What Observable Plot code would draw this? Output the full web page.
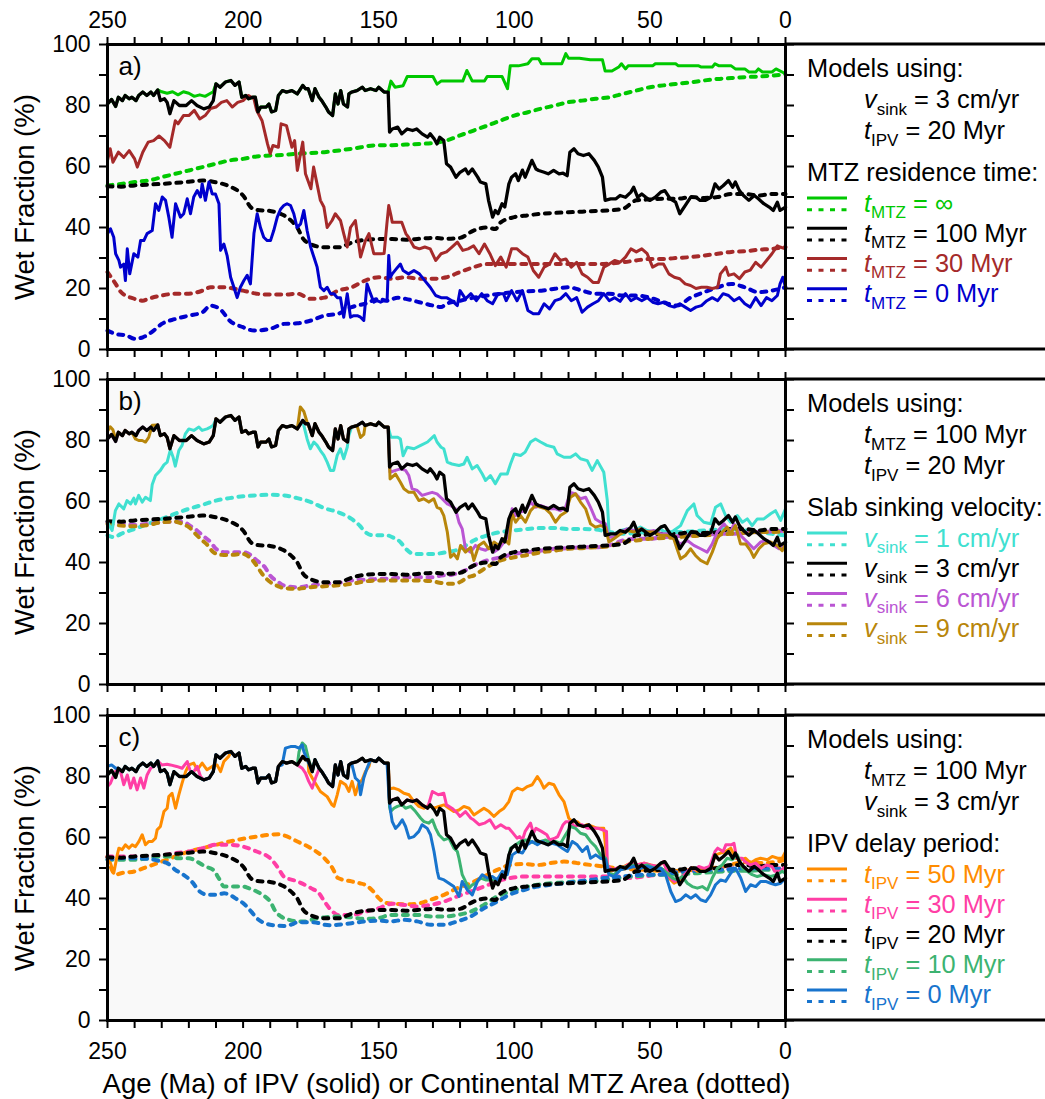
<!DOCTYPE html>
<html>
<head>
<meta charset="utf-8">
<script src="https://cdn.jsdelivr.net/npm/d3@7"></script>
<script src="https://cdn.jsdelivr.net/npm/@observablehq/plot@0.6"></script>
<style>
  body { margin: 0; background: #fff; }
  #chart svg { display: block; }
</style>
</head>
<body>
<div id="chart"></div>
<script>
// Wet fraction (%) versus age (Ma). Each model has a solid series (age of the
// IPV) and a dotted series (continental MTZ area). Pairs are [age, wet %].

// Reference model: t_MTZ = 100 Myr, v_sink = 3 cm/yr, t_IPV = 20 Myr (black, all panels)
const refSolid = [[250,80.5],[248.5,82],[247,79.7],[246,82.7],[244.5,81.6],[243.5,83.3],[242,82.2],[241,82.7],[239.5,81.6],[238.5,83.3],[237,84.4],[235.5,83.3],[234,84.4],[233,83.3],[231.5,85.1],[230.5,81.6],[229,82.2],[228,81],[227,77.3],[225.5,81.6],[223.5,80],[221,80],[219,81.6],[217,80],[214.5,78.9],[212.5,79.5],[211,81.6],[210,87.1],[208.5,86],[206.5,87.7],[204.5,88.2],[203,86.6],[201.5,87.7],[200.5,82.7],[199,83.3],[198,82.2],[196.5,82.7],[195.5,82.7],[194.5,77.9],[193.5,79.5],[191.5,79.5],[190.5,80.5],[189.5,77.9],[188,78.4],[187,83.3],[185.5,84.9],[184,84.4],[182,84.9],[180,83.8],[178,86.6],[177,85.5],[176,85.5],[174.5,81.6],[173.5,85.5],[172,82.7],[171,81.6],[169.5,79.5],[168.5,77.9],[167,76.7],[166,83.8],[165,80.5],[164,84.9],[163,80.5],[161.5,79.5],[161,83.8],[160,84.4],[158,84.9],[156,86],[155,84.9],[153,85.5],[151,84.9],[150,86],[148,84.4],[146.5,84.4],[146,71.3],[145,72.3],[143,72.9],[141.5,70.7],[139.5,72.3],[137.5,71.8],[136,72.3],[134,70.7],[132,69.6],[131,70.7],[129.5,69],[128.5,67.4],[127.5,69.6],[126,68.5],[125,60.9],[123.5,59.8],[121.5,56.5],[120,58.1],[118,59.2],[117,57.6],[115.5,59.2],[113.5,56.5],[112.5,54.9],[110.5,54.3],[109.5,48.9],[108,43.4],[107,45.6],[106,44.5],[104.5,47.8],[103.5,46.7],[102,54.3],[101,56.5],[99.5,57.6],[98.5,55.4],[97,58.8],[96,56.5],[94.5,59.8],[93.5,62],[92,59.2],[91,58.7],[89,58.1],[87.5,57.6],[85.5,58.7],[83.5,57.6],[82,57.8],[80.5,57],[79.5,64.7],[78,65.8],[76.5,64.2],[74.5,63.6],[72.5,64.2],[70.5,62],[69,59.8],[67.5,56.5],[66.5,48.9],[64.5,49.4],[62.5,49.4],[61,50.5],[59,49.9],[57,51.6],[56,53.2],[54.5,49.9],[53,51],[51.5,49.9],[50,48.9],[48,49.9],[46,51.6],[44.5,52.1],[42.5,49.4],[40.5,48.3],[39,44.5],[37,47.2],[35,49.9],[33,49.9],[31.5,48.9],[29.5,48.9],[27.5,49.9],[26,54.3],[24.5,52.6],[23,53.7],[21,55.4],[19.5,53.2],[18.5,54.9],[17,52.1],[15.5,50.5],[13.5,48.9],[11.5,50.5],[10,49.4],[8,47.8],[6,46.7],[4.5,45.6],[3,48.3],[2,45.6],[0,46.7]];
const refDotted = [[250,53.5],[245,53.4],[240,53.8],[230,54.3],[220,55],[215,55.4],[210,54.8],[205,53.5],[200,50.5],[197,46.5],[195,45.8],[190,45.4],[187,44.8],[185,44],[182,42],[180,40],[178,36.5],[175,34.5],[170,33.5],[165,33.5],[160,35],[155,36],[150,36.2],[145,36.2],[140,36],[135,36.3],[130,36.6],[125,36.3],[120,36.6],[115,39],[110,40],[107,39.5],[105,41.7],[100,43.4],[95,44],[90,44.5],[85,44.8],[80,45],[75,45.2],[70,45.4],[65,45.6],[60,46.1],[55,48.9],[50,49.2],[45,49.4],[40,49.4],[35,50],[30,49.7],[25,50],[20,51],[15,51],[10,50.5],[5,51],[0,51]];

// Panel a: MTZ residence time
const mtzInfSolid = [[250,80.5],[248.5,82],[247,79.7],[246,82.7],[244.5,81.6],[243.5,83.3],[242,82.2],[241,82.7],[239.5,81.6],[238.5,83.3],[237,84.4],[235.5,83.3],[234,84.4],[233,83.3],[231.5,85.1],[230,84.5],[228,84],[226,84.5],[224,83.5],[222,84.5],[220,84],[218,83],[216,83.5],[214,83],[212,84],[211,84.5],[210,87.1],[208.5,86],[206.5,87.7],[204.5,88.2],[203,86.6],[201.5,87.7],[200.5,82.7],[199,83.3],[198,82.2],[196.5,82.7],[195.5,82.7],[194.5,77.9],[193.5,79.5],[191.5,79.5],[190.5,80.5],[189.5,77.9],[188,78.4],[187,83.3],[185.5,84.9],[184,84.4],[182,84.9],[180,83.8],[178,86.6],[177,85.5],[176,85.5],[174.5,81.6],[173.5,85.5],[172,82.7],[171,81.6],[169.5,79.5],[168.5,77.9],[167,76.7],[166,83.8],[165,80.5],[164,84.9],[163,80.5],[161.5,79.5],[161,83.8],[160,84.4],[158,84.9],[156,86],[155,84.9],[153,85.5],[151,84.9],[150,86],[148,84.4],[146.5,84.4],[145.5,88],[144,86],[141,86.5],[139.5,89.5],[135,89.5],[130,89.5],[128.5,87],[127,88],[119,88],[117.5,91.5],[115.5,88],[111,88],[110,89.5],[104.5,89.5],[102.5,85.5],[101.5,93],[98.5,93],[95,93.7],[93.5,95.3],[91,95.3],[90,93.7],[82.5,93.7],[81,97],[80,95.5],[76,95.5],[72,95],[67.5,95],[66.5,91.3],[64,91.3],[61.5,92.6],[60.5,93.7],[59,92],[58,93],[49,93],[48,93.7],[40.5,93.7],[39.5,93],[32,93],[31,92.6],[27,92.6],[26,93.7],[24.5,93],[20,93],[18.5,92],[15,92],[13.5,91],[11,91],[10,92],[8.5,91],[5,91],[3.5,92],[0,90.4]];
const mtzInfDotted = [[250,53.8],[245,54.3],[240,54.9],[235,55.4],[230,56.5],[225,57.6],[220,58.7],[215,59.8],[210,60.9],[205,62],[200,62.5],[195,63.3],[190,63.6],[185,63.8],[180,64.2],[170,64.7],[160,65.8],[150,67],[145,67],[140,67.2],[135,67.4],[130,67.7],[125,68.5],[120,70.2],[115,71.8],[110,73.4],[105,75.1],[100,76.7],[95,77.8],[90,79],[85,80],[80,81.1],[75,81.6],[70,82.2],[65,82.7],[60,83.8],[55,84.9],[50,86],[45,86.6],[40,87.1],[35,87.6],[30,88.2],[25,88.7],[20,89],[15,89.3],[10,89.5],[5,89.8],[0,90.2]];
const mtz30Solid = [[250,62],[249,65.8],[248,61.4],[246,64.7],[244,63],[242,65.2],[240,62.5],[239,59.8],[237,64.7],[235,68],[233,68.5],[231,70],[229,68.5],[227,66.3],[225,75],[224,74],[222,76.7],[220,76.7],[218,78.4],[216,75.6],[214,76.7],[212,79],[210,79.5],[208,81],[206,81.6],[204,79.5],[202,81],[200,81.6],[198,83.3],[196,82.2],[195,78.4],[193,75],[191,67.4],[190,64.2],[189,66.9],[187,66.3],[186,74],[184,73.4],[182,66.3],[181,68.5],[180,58.7],[178,68],[177,57.6],[175,52.7],[174,59.8],[171.5,48.9],[170.2,46.7],[169,40],[167.2,42.3],[166,44.5],[164.1,42.3],[162.9,38],[161.6,33.6],[160.4,40],[158.6,42.3],[156.7,30.3],[154.9,35.7],[153.6,38],[151.8,31.4],[149.3,31.4],[148,31.5],[147,41],[146.3,47.2],[145.5,44],[145,41.7],[141.5,41.7],[140,38],[139,36.8],[137,33.6],[135,33],[133,33.6],[131,33],[129,29.2],[127,31.4],[125,32],[123,33.6],[121,35.2],[119,32.5],[117,33],[115,34],[113,31.4],[111,34.6],[109,31.4],[107,27.5],[105,30.3],[103,27],[101,33],[99,33],[97,31.4],[95,30.3],[93,25.9],[91,23.7],[89,27],[87,28],[85,31.4],[83,29.2],[81,29.7],[79,27],[77,28.6],[75,24.8],[73,23.7],[71,22],[69,22],[67,27],[65,28],[63,29.2],[61,28.6],[59,30.3],[57,33],[55,32],[53,33],[51,31.4],[49,27],[47,28],[45,28],[43,24.8],[41,23.7],[39,23.2],[37,21.5],[35,21],[33,20],[31,20.4],[29,20.4],[27,20],[25,20.4],[24,24.8],[22,27],[21,24.3],[19,24.8],[17,23.2],[15,25.4],[13,26],[11,28.6],[9,27],[7,29.2],[5,31.4],[3,34],[2,33.6],[0,33]];
const mtz30Dotted = [[250,25.4],[247,21.5],[245,18.8],[240,16.6],[237,16],[235,16.6],[230,17.7],[225,18.3],[220,18.3],[215,19.3],[212,20.4],[207,20.4],[200,19.3],[195,18.3],[190,18],[185,18],[180,18.3],[175,16.6],[170,17],[165,19.3],[160,20.4],[155,22.6],[150,23.7],[145,23.2],[140,23.7],[135,23.2],[130,23.2],[125,23.7],[120,25.4],[115,27],[110,28],[105,28],[100,28],[95,28],[90,28],[85,28],[80,28],[75,28],[70,28],[65,28.2],[60,28.6],[55,29.2],[50,29.7],[45,29.7],[40,30],[35,30.3],[30,30.8],[25,31.4],[20,32],[15,32.2],[10,32.7],[5,33],[0,33.6]];
const mtz0Solid = [[250,38],[248.9,39.6],[247.7,36.8],[247,31.4],[245.8,29.2],[245.2,27],[244,28],[243.4,22.6],[242.7,33],[241.8,24.8],[240.3,31.4],[238.8,30.3],[237.8,35.7],[236.6,35.7],[235.4,38],[233.5,39],[232.3,47.8],[231.1,45.6],[229.8,50],[228.6,48.9],[227.4,43.4],[226.2,36.8],[224.9,47.8],[223.1,43.4],[221.9,44.5],[220.6,49.4],[219.4,44.5],[218.2,50],[216.9,52.1],[215.7,50],[215.1,54.3],[213.9,48.9],[212.6,54.9],[211.4,51],[210.2,51],[208.9,47.8],[208.3,32.5],[207.1,34.6],[205.9,30.8],[204.6,23.7],[203.4,20.4],[202.2,17],[201,20.4],[199.7,22.6],[198.5,24.3],[197.3,21.5],[196,38],[194.8,44.5],[193.6,40],[192.4,36.8],[191.1,35.7],[189.9,35.7],[188.7,39],[187.4,43.4],[186.2,46],[185,47.2],[183.8,47.8],[182.5,47.2],[181.3,44.5],[180.1,40],[178.8,41.2],[177.6,45.6],[176.4,39],[175.1,33.6],[173.9,30.3],[172.7,27],[171.5,20.4],[170.2,19.3],[169,20.4],[167.8,18.3],[166.5,18.3],[165.3,17],[164.1,17],[162.9,10.6],[161.6,18.3],[160.4,10.6],[159.2,11.1],[157.9,11.1],[156.7,10.6],[155.5,9.5],[154.3,21.5],[153,18.3],[151.8,15.5],[150.6,16],[149.3,15.5],[148.1,16],[146.9,16],[146.3,30.8],[145.7,23.7],[145,24.8],[143,27],[142,28],[141,25.9],[139,24.8],[137,25.9],[135,24.8],[133,22.6],[131,20.4],[129,17.7],[127,17],[125,17],[123,16],[121,14.4],[120,19.3],[118,16.6],[116,18.3],[114,16],[112,18.3],[110,16],[108,15],[106,18.3],[104,18.3],[103,16],[101,19.3],[99,16],[97,19.3],[95,12.8],[93,11.7],[91,11.7],[89,15],[87,13.3],[85,16],[83,16.6],[81,18.3],[79,16],[77,17],[75,12.2],[73,13.9],[71,15],[69,16],[67,18.3],[65,16],[63,17],[61,15.8],[59,18.3],[57,16],[55,17],[53,16],[51,17],[49,15.5],[47,15],[45,15.5],[43,14.4],[41,13.9],[39,15],[37,13.9],[35,12.8],[33,13.9],[31,14.4],[29,16],[27,17],[25,16],[23,18.3],[21,17.7],[19,16],[17,17],[15,15],[13,13.9],[11,17],[9,14.4],[7,17],[5,16],[3,17.7],[2,21.5],[1,23.7],[0,20.4]];
const mtz0Dotted = [[250,6.2],[247,5.1],[243,4.6],[240,3.5],[237,4],[233,6.2],[230,8.4],[225,10],[220,11.1],[215,12.2],[212,14.4],[208,12.8],[205,9.5],[200,7.3],[196,6.2],[190,6.8],[185,8.4],[180,8.6],[175,9.5],[170,11.1],[165,11.7],[160,13.9],[155,15],[150,16.6],[147,16],[143,17],[140,16.6],[135,15.5],[130,14.4],[127,13.9],[125,15],[120,16],[115,17],[110,17.7],[105,18.3],[100,18.8],[95,19.1],[90,19.3],[85,19.9],[80,20.4],[75,19.3],[70,18.3],[65,18.3],[60,17.7],[55,17.7],[50,17],[45,15.5],[40,14.4],[35,17],[30,18.8],[25,20.4],[20,21.5],[15,20.4],[10,18.8],[5,19.3],[0,20.4]];

// Panel b: slab sinking velocity
const sink1Solid = [[250,53.2],[248.3,50.5],[247.1,57],[245.8,59.2],[244,57.6],[242.8,60.3],[241.5,59.2],[240.3,61.1],[239.7,59.2],[238.5,62],[237.2,59.8],[236,61.4],[234.2,60.3],[233.5,65.6],[232.3,68.5],[230.5,70.2],[229.2,72],[228,72.9],[226.8,77],[225.8,74.5],[225,71.6],[223.7,76.7],[222.5,78.4],[221.3,82.2],[220,83.8],[218.2,83.3],[216.3,84.4],[215.1,83.3],[213.3,83.8],[212,84.4],[211,85],[210,87.1],[208.5,86],[206.5,87.7],[204.5,88.2],[203,86.6],[201.5,87.7],[200.5,82.7],[199,83.3],[198,82.2],[196.5,82.7],[195.5,82.7],[194.5,77.9],[193.5,79.5],[191.5,79.5],[190.5,80.5],[189.5,77.9],[188,78.4],[187,83.3],[185.5,84.9],[184,84.4],[182,84.9],[180,83.8],[178,86.6],[177.6,84.9],[176.4,80.5],[175.2,77.3],[173.9,79.5],[172.7,78.4],[171.5,76.7],[170.2,75.1],[169,72.9],[167.8,70.2],[166.6,70.2],[165.3,75.1],[164.1,77.3],[162.9,74],[161.6,77.8],[161,81.6],[160,84.4],[158,84.9],[156,86],[155,84.9],[153,85.5],[151,84.9],[150,86],[148,84.4],[146.5,84.4],[145.5,81.1],[143,81.1],[142,80.5],[141,75],[139.5,77.8],[137,77.3],[134.5,78.4],[132,79.5],[129.5,81.6],[128.5,79.5],[127,77.8],[126,77.3],[124.7,72.9],[123,72.3],[120.4,71.8],[118.6,72.3],[117.4,74.5],[115.5,70.7],[113.7,71.8],[111.8,69],[110.6,66.9],[108.8,68.5],[107,65.8],[105,69],[102.6,69],[101.4,72.3],[100,75.6],[97.7,75.1],[96,76.2],[94,79.5],[92.2,80.5],[90.3,79.5],[88,78.4],[85.4,77.8],[84.2,75.6],[81.7,74.5],[79.3,74.5],[77.4,75.6],[75.6,74],[73.1,73.4],[71.3,70.2],[69.4,73.4],[67,69.6],[65.7,60.3],[65.1,50],[63.3,49.4],[60.8,50.5],[58.4,51],[55.9,50.5],[53.5,51.6],[51,50.5],[48.5,50],[46.1,51],[43.6,49.4],[41.2,50.5],[38.7,52.1],[36.2,57],[33.8,59.2],[32.6,55.4],[30.1,53.2],[27.6,52.7],[25.8,58.1],[23.9,59.2],[22.1,55.4],[20.3,53.2],[17.8,55.4],[15.9,53.2],[14.1,54.3],[12.3,52.1],[10.4,54.3],[8,54.3],[5.5,56],[3.7,57],[1.8,53.8],[0,57.6]];
const sink1Dotted = [[250,48.9],[247.5,48.3],[245,49.4],[240,51],[235,52.7],[230,54.3],[225,56],[220,57.6],[215,58.9],[210,60.3],[205,61.1],[200,61.7],[195,62],[190,62.2],[185,62],[180,61.1],[175,59.8],[170,57.8],[165,56.5],[160,54.3],[157,52.1],[155,50],[152,48.9],[150,48.9],[147,48.9],[145,48.3],[142,46.7],[140,44.5],[137,42.8],[135,42.8],[130,42.8],[125,43.4],[120,44.5],[117,46.1],[115,47.2],[110,48.9],[105,50],[100,50.5],[95,51],[90,51.3],[85,51.3],[80,51],[75,51],[70,50.8],[65,50],[60,49.4],[55,49.7],[50,50],[45,50],[40,50],[35,50.2],[30,50.5],[25,50.8],[20,51],[15,50.5],[10,50],[5,49.4],[0,48.9]];
const sink6Solid = [[250,80.5],[248.5,82],[247,79.7],[246,82.7],[244.5,81.6],[243.5,83.3],[242,82.2],[241,82.7],[239.5,81.6],[238.5,83.3],[237,84.4],[235.5,83.3],[234,84.4],[233,83.3],[231.5,85.1],[230.5,81.6],[229,82.2],[228,81],[227,77.3],[225.5,81.6],[223.5,80],[221,80],[219,81.6],[217,80],[214.5,78.9],[212.5,79.5],[211,81.6],[210,87.1],[208.5,86],[206.5,87.7],[204.5,88.2],[203,86.6],[201.5,87.7],[200.5,82.7],[199,83.3],[198,82.2],[196.5,82.7],[195.5,82.7],[194.5,77.9],[193.5,79.5],[191.5,79.5],[190.5,80.5],[189.5,77.9],[188,78.4],[187,83.3],[185.5,84.9],[184,84.4],[182,84.9],[180,83.8],[178,86.6],[177,85.5],[176,85.5],[174.5,81.6],[173.5,85.5],[172,82.7],[171,81.6],[169.5,79.5],[168.5,77.9],[167,76.7],[166,83.8],[165,80.5],[164,84.9],[163,80.5],[161.5,79.5],[161,83.8],[160,84.4],[158,84.9],[156,86],[155,84.9],[153,85.5],[151,84.9],[150,86],[148,84.4],[146.5,84.4],[145.8,69.6],[143.8,70.2],[142,70.7],[140.1,70.2],[138.9,68.5],[137.7,64.2],[135.8,63.6],[134,62],[132.2,62.5],[130.3,63],[128.5,62.5],[126.6,60.9],[124.7,59.2],[123.5,58.7],[121.7,57.6],[120.4,53.2],[119.2,51],[118,44.5],[116.1,43.4],[114.3,45.6],[112.5,44.5],[110.6,44],[108.8,45],[107.5,43.4],[105.7,44.5],[103.8,46.7],[102,48.9],[100.8,57.6],[99.5,55.4],[97.7,56.5],[95.9,57],[94,59.8],[92.2,58.1],[90.3,58.7],[88.5,58.1],[86.6,57.6],[84.8,57.6],[83,57],[81.1,58.1],[79.3,63],[77.4,62.5],[75.6,60.9],[73.7,61.4],[71.9,58.1],[70.1,54.3],[68.2,53.2],[66.4,52.7],[65.1,48.3],[63.3,48.3],[60.8,50],[58.4,51],[55.9,50.5],[53.5,51],[51,50],[48.5,50.5],[46.1,49.4],[43.6,49.4],[41.2,47.8],[38.7,46.1],[36.2,47.2],[33.8,45.6],[31.3,44.5],[28.9,43.4],[27,46.1],[25.2,50],[22.7,52.7],[20.3,50],[19,52.7],[16.6,48.9],[14.1,46.7],[11.7,44.5],[9.2,46.7],[6.7,47.2],[4.3,45.6],[2.4,44.5],[0,46.1]];
const sink6Dotted = [[250,53.2],[245,53],[240,52.3],[235,52.7],[230,53.2],[225,53.4],[222,53.4],[220,52.3],[217,50.5],[215,48.9],[212,46.7],[210,44.5],[207,43.4],[205,43.4],[200,43.4],[197,42.3],[195,40.7],[192,38.5],[190,35.7],[187,33.6],[185,32.5],[180,31.9],[175,32.5],[170,33],[165,33.3],[160,34.1],[155,34.4],[150,34.6],[145,34.8],[140,35.2],[135,35.2],[130,35.2],[127,35.7],[123,36],[120,36.8],[117,37.9],[115,39],[112,40.1],[110,40.7],[105,41.7],[100,42.8],[95,43.4],[90,43.9],[85,44.5],[80,44.7],[75,45],[70,45],[65,45.6],[60,47.2],[55,47.8],[50,47.8],[45,48.3],[40,48.6],[35,48.9],[30,49.1],[25,49.4],[20,49.4],[15,49.7],[10,50],[5,50.2],[0,50.5]];
const sink9Solid = [[250,83],[249,84.5],[248,83.5],[247,80.5],[246,82.7],[244.5,81.6],[243.5,83.3],[242,82.2],[241,82.7],[239.7,80.5],[238.5,80],[237.2,80],[236,79.5],[234.8,81],[233.5,85],[231.5,85.1],[230.5,81.6],[229,82.2],[228,81],[227,77.3],[225.5,81.6],[223.5,80],[221,80],[219,81.6],[217,80],[214.5,78.9],[212.5,79.5],[211,81.6],[210,87.1],[208.5,86],[206.5,87.7],[204.5,88.2],[203,86.6],[201.5,87.7],[200.5,82.7],[199,83.3],[198,82.2],[196.5,82.7],[195.5,82.7],[194.5,77.9],[193.5,79.5],[191.5,79.5],[190.5,80.5],[189.5,77.9],[188,78.4],[187,83.3],[185.5,84.9],[184,84.4],[182,84.9],[180,83.8],[178.9,91],[177.6,89.5],[176.4,86],[174.5,81.6],[173.5,85.5],[172,82.7],[171,81.6],[169.5,79.5],[168.5,77.9],[167,76.7],[166,83.8],[165,80.5],[164,84.9],[163,80.5],[161.5,79.5],[161,83.8],[160,84.4],[158,84.9],[156.7,81],[155.5,82],[155,84.9],[153,85.5],[151,84.9],[150,86],[148,84.4],[146.5,84.4],[145.8,67.4],[143.8,69],[142,66.3],[140.7,64.2],[138.9,63],[137,63],[135.2,60.3],[133.4,60.9],[131.5,59.8],[129.7,60.9],[128.5,58.1],[127.2,57.6],[126,55.4],[124.7,50],[123.5,41.7],[122.3,42.8],[121,41.2],[119.8,45.6],[118,43.4],[116.1,45],[114.9,40.7],[113.1,45.6],[111.2,46.7],[109.4,44.5],[107.5,46.7],[105.7,45.6],[103.8,47.8],[102,46.1],[100.8,56],[99.5,53.2],[97.7,55.4],[95.9,53.2],[94,57],[92.2,58.7],[90.3,58.1],[88.5,57.6],[86.6,56],[84.8,53.2],[83,55.4],[81.1,56.5],[79.3,61.4],[77.4,62.5],[75.6,59.8],[73.7,57.6],[71.9,52.7],[70.1,51.6],[68.2,52.1],[66.4,51.6],[65.1,46.7],[63.3,47.8],[60.8,49.4],[58.4,50.5],[55.9,50],[53.5,51],[51,50],[48.5,50],[46.1,48.9],[43.6,48.9],[41.2,47.8],[40,44.5],[38.7,41.2],[36.9,42.3],[35,44.5],[33.2,42.3],[31.3,40.7],[28.9,39.6],[27,43.4],[25.2,47.8],[23.3,50],[21.5,51.6],[20.3,49.4],[18.4,52.1],[16.6,46.1],[14.7,46.1],[12.9,43.9],[11.7,41.7],[9.8,44.5],[8,46.1],[5.5,46.7],[3.1,45.6],[1.2,43.9],[0,46.1]];
const sink9Dotted = [[250,52.7],[245,52.1],[240,51.9],[235,52.3],[230,53.2],[225,53.4],[222,52.5],[220,51.6],[217,48.9],[215,47.2],[213,45.6],[211,43.4],[208,42.5],[205,42.5],[200,42.8],[197,41.2],[195,39],[193,36.3],[190,33.6],[187,32.2],[185,31.6],[180,31.4],[175,31.9],[170,32.2],[165,32.5],[160,33],[155,33.8],[150,34.1],[145,34.1],[140,34.1],[135,34.1],[130,33.8],[127,33.3],[123,33],[120,33.6],[117,35.2],[115,35.7],[112,37.4],[110,38.5],[105,40.7],[100,41.7],[95,42.5],[90,43.4],[85,43.9],[80,44.5],[75,44.7],[70,45],[65,45.3],[60,46.7],[55,47.2],[50,47.8],[45,48],[40,48.3],[35,48.6],[30,48.9],[25,49.1],[20,49.4],[15,49.7],[10,50],[5,50],[0,50.2]];

// Panel c: IPV delay period
const ipv50Solid = [[250,52.7],[248.9,51.6],[247.7,48.3],[246.4,54.3],[245.8,56.5],[244.6,56],[243.4,57.6],[242.1,56.5],[240.9,57.6],[239.7,57],[238.4,58.7],[237.2,60.9],[236,57.6],[234.8,58.7],[233.5,58.7],[232.3,59.8],[231.7,62.5],[230.5,63.6],[229.2,68.5],[228,69.6],[227.4,73.4],[226.2,74.5],[224.9,69.6],[223.7,74],[222.5,77.8],[221.2,81.6],[220,83.8],[218.2,84.4],[216.9,82.2],[215.1,84.4],[213.3,82.2],[211.4,83.3],[209.6,83.8],[208.3,81.6],[207.1,84.9],[205.3,86.6],[204.5,88.2],[203,86.6],[201.5,87.7],[200.5,82.7],[199,83.3],[198,82.2],[196.5,82.7],[195.5,82.7],[194.5,77.9],[193.5,79.5],[191.5,79.5],[190.5,80.5],[189.5,77.9],[188,78.4],[187,83.3],[185.5,84.9],[184,84.4],[182,84.9],[180,83.8],[178,86.6],[177,85.5],[176,85.5],[175.8,81.6],[174.5,79.5],[171.5,75.1],[169,73.4],[167.2,70.7],[166.5,70.2],[165.3,74],[164.1,78.4],[162.2,77.3],[161,75.1],[159.8,78.4],[158.6,74],[157.3,77.8],[156.1,78.9],[154.9,81.6],[153.6,83.3],[153,85.5],[151,84.9],[150,86],[148,84.4],[146.5,84.4],[146,76],[144.4,76.2],[142.5,75.6],[140.7,74.5],[138.8,74],[137,71.8],[135.2,70.2],[133.3,69.6],[131.5,70.7],[129.6,69.6],[127.8,70.2],[125.9,70.7],[124.1,69.6],[122.3,68.5],[120.4,69],[118.6,70.2],[116.7,69.6],[114.9,67.4],[113,68.5],[111.2,69.6],[109.3,68.5],[107.5,66.9],[105.6,68.5],[103.8,69.6],[102,71.8],[100.7,75],[98.9,76.2],[97,75.6],[95.2,76.7],[93.4,77.3],[91.5,80],[90.3,78.4],[89.1,76.2],[87.2,77.8],[85.4,77.3],[83.5,74],[81.7,71.8],[79.9,66.3],[78.6,65.2],[76.8,65.2],[74.9,63.6],[73.1,64.2],[71.2,63.6],[69.4,63],[67,63],[65.7,51],[64.5,48.9],[62,50],[59.6,50.5],[57.1,51.6],[54.7,51],[52.2,51.6],[49.7,51],[47.3,50.5],[44.8,52.1],[43,46.7],[41.1,45],[38.7,46.1],[36.8,47.8],[34.4,50],[32.5,48.9],[30.1,49.4],[27.6,50],[25.8,54.3],[23.9,54.9],[22.1,55.4],[20.2,56.5],[18.4,53.2],[16.5,52.7],[14.7,53.2],[12.9,51.6],[11,52.7],[9.2,53.2],[6.7,52.7],[4.9,53.8],[2.9,53.2],[1.2,53.2],[0,55.4]];
const ipv50Dotted = [[250,53.8],[247,47.8],[245,48.3],[240,48.9],[235,50.5],[230,52.1],[225,53.8],[220,55.4],[215,56.5],[210,57.6],[205,58.7],[200,59.6],[195,60.3],[190,60.9],[187,61.1],[185,60.7],[180,58.7],[175,56.5],[170,53.2],[167,49.9],[165,46.7],[160,45.6],[157,45],[155,44.5],[152,42.3],[150,40.1],[147,38.5],[145,38.3],[140.7,38.1],[135.8,38.3],[130.9,39.6],[125.9,41.2],[121,43.4],[116.1,45],[111.2,47.2],[106.3,49.4],[101.4,51],[96.4,51.3],[91.5,51],[86.6,51.6],[81.7,52.1],[76.8,51.6],[71.9,51],[67,50.5],[62,49.9],[57.1,49.6],[52.2,49.4],[47.3,49.1],[42.4,48.9],[37.4,49.2],[32.5,49.4],[27.6,49.9],[22.7,50.5],[17.8,51.6],[12.9,51.9],[8,51.6],[3.1,52.1],[0,52.7]];
const ipv30Solid = [[250,76.7],[248.9,77.8],[247.7,80.5],[246.4,82.7],[245.2,81.6],[244,77.3],[242.7,80.5],[241.5,76.2],[240.3,79.5],[239.1,75.6],[237.8,79.5],[236.6,76.2],[235.4,80.5],[234.1,82.7],[232.3,83.8],[231.5,85.1],[230,83.8],[228,84],[226.8,83.8],[224.5,83.3],[222.5,82.7],[220.6,84.9],[219.4,81.6],[218.2,81.6],[216.9,83.3],[215.7,80],[214.5,78.9],[212.5,79.5],[211,81.6],[210,87.1],[208.5,86],[206.5,87.7],[204.5,88.2],[203,86.6],[201.5,87.7],[200.5,82.7],[199,83.3],[198,82.2],[196.5,82.7],[195.5,82.7],[194.5,77.9],[193.5,79.5],[191.5,79.5],[190.5,80.5],[189.5,77.9],[188,78.4],[187,83.3],[185.5,84.9],[184,84.4],[182,84.9],[180,83.8],[178.2,82.7],[177,81.1],[175.8,78.4],[174.5,76.2],[173.3,79.5],[172.1,82.2],[171,81.6],[169.5,79.5],[168.5,77.9],[167,76.7],[166,83.8],[165,80.5],[164,84.9],[163,80.5],[161.5,79.5],[161,83.8],[160,84.4],[158,84.9],[156,86],[155,84.9],[153,85.5],[151,84.9],[150,86],[148,84.4],[146.5,84.4],[146,71.3],[145,72.3],[143,72.9],[141.5,70.7],[139.5,72.3],[137.5,71.8],[136,72.3],[134,70.7],[132,69.6],[130.2,75.1],[128,74],[126,74.5],[125,70.7],[123,69.6],[121,68],[120,66.9],[118,68.5],[116,66.3],[115,65.8],[113,64.2],[111,64.7],[109,65.8],[107,63],[105,64.2],[103,63],[102,63],[101,62],[99,59.8],[98,60.3],[97,59.2],[96,62],[94,64.7],[93,61.4],[92,63],[90,62],[88,60.9],[87,59.2],[85,59.8],[84,60.3],[82,64.2],[81,65.2],[79,65.2],[78,63.6],[76,64.2],[75,64.2],[73,63],[71,63],[69,63],[66,62],[65.7,51],[64,49.4],[62,50],[60,50],[57,51.6],[55,51],[52,51.6],[50,51],[47,50.5],[45,52.1],[43,47.2],[41,45.6],[39,46.6],[37,48],[35,49.9],[33,49.5],[32,50.5],[30,49.9],[28,50.5],[26,55.4],[25,56.5],[23,55.4],[22,57.6],[20,57.6],[19,58.1],[18,53.2],[16,53.2],[15,52.1],[13,51],[11,51.6],[9,49.9],[7,51],[5,50.5],[4,48.9],[2,48.9],[0,50.5]];
const ipv30Dotted = [[250,53.8],[245,53.8],[240,53.8],[235,53.8],[230,54.1],[225,54.9],[220,55.4],[215,56.5],[210,57.6],[205,57.6],[200,57],[195,55.4],[190,53.2],[187,49.9],[185,47.2],[180,45.6],[175,43.4],[172,41.7],[170,39],[167,35.7],[165,34.6],[160,34.6],[155,35.7],[150,36.8],[147,37.9],[145,38.3],[140.7,37.9],[135.8,37.4],[130.9,37.9],[125.9,39],[121,40.7],[116.1,42.3],[111.2,43.9],[106.3,45.6],[101.4,46.7],[96.4,47.2],[91.5,47.2],[86.6,47.2],[81.7,47.2],[76.8,47.2],[71.9,47.2],[67,47.2],[62,47.2],[57.1,46.7],[52.2,47.2],[47.3,47.8],[42.4,48.3],[37.4,48.9],[32.5,49.1],[27.6,49.4],[22.7,49.7],[17.8,49.9],[12.9,49.9],[8,49.9],[3.1,49.9],[0,49.9]];
const ipv10Solid = [[250,80.5],[248.5,82],[247,79.7],[246,82.7],[244.5,81.6],[243.5,83.3],[242,82.2],[241,82.7],[239.5,81.6],[238.5,83.3],[237,84.4],[235.5,83.3],[234,84.4],[233,83.3],[231.5,85.1],[230.5,81.6],[229,82.2],[228,81],[227,77.3],[225.5,81.6],[223.5,80],[221,80],[219,81.6],[217,80],[214.5,78.9],[212.5,79.5],[211,81.6],[210,87.1],[208.5,86],[206.5,87.7],[204.5,88.2],[203,86.6],[201.5,87.7],[200.5,82.7],[199,83.3],[198,82.2],[196.5,82.7],[195.5,82.7],[194.5,77.9],[193.5,79.5],[191.5,79.5],[190.5,80.5],[189.5,77.9],[188,78.4],[187,83.3],[185.5,84.9],[184,84.4],[182,84.9],[180,83.8],[179.4,88],[178.2,91],[177,90],[175.8,85.5],[174.5,81.6],[173.5,85.5],[172,82.7],[171,81.6],[169.5,79.5],[168.5,77.9],[167,76.7],[166,83.8],[165,80.5],[164,84.9],[163,80.5],[161.5,79.5],[161,83.8],[160,84.4],[158,84.9],[156,86],[155,84.9],[153,85.5],[151,84.9],[150,86],[148,84.4],[146.5,84.4],[146,70],[145.6,68.5],[144.4,69.6],[143.1,70.2],[141.3,70.7],[140.1,69.6],[138.2,70.2],[136.4,68.5],[134.5,66.3],[133.3,65.2],[131.5,64.7],[130.2,65.8],[129,63],[127.8,60.9],[125.9,59.2],[124.1,59.8],[122.3,56.5],[121,55.4],[120.4,53.2],[119.2,47.8],[118,45.6],[116.7,43.4],[115.5,44.5],[114.3,45],[112.4,46.7],[110.6,46.1],[108.7,46.1],[106.9,46.1],[105,47.2],[103.2,47.8],[101.4,56.5],[99.5,57.6],[97.7,58.7],[95.8,59.2],[94,58.7],[92.1,58.1],[90.3,58.7],[88.4,59.2],[86.6,58.1],[84.8,58.7],[82.9,58.1],[81.1,60.9],[79.2,63.6],[77.4,63],[75.6,61.4],[73.7,60.9],[71.9,58.7],[70,57],[68.2,54.3],[66.3,53.2],[65.1,48.3],[63.2,47.8],[60.8,50],[58.3,50.5],[55.9,51],[53.4,50.5],[51,51],[48.5,50],[46,50],[43.6,48.3],[41.7,46.7],[39.9,46.1],[38,47.2],[36.2,45],[34.4,43.9],[32.5,43.4],[30.7,43.9],[28.8,42.8],[27,46.7],[25.1,49.9],[23.3,51],[21.5,53.2],[19.6,52.7],[17.8,54.3],[15.9,49.9],[14.1,48.9],[12.3,47.8],[10.4,47.2],[8,47.8],[5.5,47.2],[3.1,47.8],[1.2,48.9],[0,48.3]];
const ipv10Dotted = [[250,52.7],[245,52.7],[240,52.7],[235,53.2],[230,53.8],[227,53.8],[224,53.2],[220,53.2],[217,52.1],[214,50.5],[211,49.4],[209,46.7],[207,43.9],[205,43.9],[200,43.9],[198,43.4],[195,42.3],[192,40.7],[190,39],[188,35.7],[186,34.1],[183,33],[180,32.5],[177,32.5],[175,33],[170,33.8],[165,34.1],[160,33.8],[155,33.3],[150,33.6],[145.6,34.6],[140.7,34.6],[135.8,34.6],[130.9,34.1],[125.9,34.1],[121,34.6],[116.1,35.7],[111.2,37.9],[106.3,40.7],[101.4,42.3],[96.4,43.6],[91.5,44.5],[86.6,45],[81.7,45.3],[76.8,45.6],[71.9,45.6],[67,46.1],[62,46.7],[57.1,47.2],[52.2,47.5],[47.3,47.8],[42.4,47.8],[37.4,48],[32.5,48.3],[27.6,48.6],[22.7,48.9],[17.8,49.1],[12.9,49.1],[8,49.4],[3.1,49.4],[0,49.4]];
const ipv0Solid = [[250,83.3],[248.5,83.8],[247,82.7],[246,82.7],[244.5,81.6],[243.5,83.3],[242,82.2],[241,82.7],[239.5,81.6],[238.5,83.3],[237,84.4],[235.5,83.3],[234,84.4],[233,83.3],[231.5,85.1],[230.5,81.6],[229,82.2],[228,81],[227,77.3],[225.5,81.6],[223.5,80],[221,80],[219,81.6],[217,80],[214.5,78.9],[212.5,79.5],[211,81.6],[210,87.1],[208.5,86],[206.5,87.7],[204.5,88.2],[203,86.6],[201.5,87.7],[200.5,82.7],[199,83.3],[198,82.2],[196.5,82.7],[195.5,82.7],[194.5,77.9],[193.5,79.5],[191.5,79.5],[190.5,80.5],[189.5,77.9],[188,78.4],[187,83.3],[185.6,83.8],[184.4,89.3],[182.5,89.8],[180.7,89.8],[179.4,89.3],[178.2,90.4],[177.6,88.2],[176.4,85.5],[174.5,81.6],[173.5,85.5],[172,82.7],[171,81.6],[169.5,79.5],[168.5,77.9],[167,76.7],[166,83.8],[165,80.5],[164,84.9],[163,80.5],[161.5,79.5],[161,83.8],[160,84.4],[158.6,79.5],[157.3,78.4],[156.7,74],[155.5,79.5],[154.3,82.7],[153,85.5],[151,84.9],[150,86],[148,84.4],[146.9,84],[146.2,73.4],[145.6,68.5],[145,65.2],[143.8,63],[142.5,64.2],[141.3,65.8],[140.1,63.6],[138.8,59.8],[137,60.3],[135.2,62],[134,64.2],[132.1,63],[130.9,60.9],[129.6,55.4],[128.4,48.9],[127.8,46.7],[125.9,46.1],[124.1,45],[122.3,43.9],[120.4,40.7],[119.2,45.6],[117.3,42.8],[115.5,41.2],[113.6,45.6],[111.8,47.8],[110,46.7],[108.1,47.2],[106.3,46.1],[104.4,48.9],[102.6,47.8],[100.7,54.3],[98.9,55.4],[97,54.9],[95.2,57.6],[93.4,58.7],[91.5,57.6],[89.7,58.7],[87.8,57.6],[86,58.1],[84.1,57.6],[82.3,56.5],[80.4,55.4],[78.6,58.7],[76.8,57.6],[74.9,55.4],[73.1,57],[71.9,53.2],[70,54.3],[68.2,53.2],[66.3,52.7],[65.1,47.8],[63.2,47.2],[60.8,49.4],[58.3,49.9],[55.9,50.5],[53.4,49.9],[51,50.5],[48.5,49.9],[46,49.9],[44.2,47.8],[42.3,42.3],[40.5,39],[38.7,39.6],[36.8,41.2],[34.9,40.1],[33.1,41.2],[31.3,39.6],[29.4,39],[27.6,41.2],[25.8,44.5],[23.9,46.1],[22.1,45.6],[20.2,48.3],[18.4,49.9],[16.5,46.7],[14.7,42.3],[12.9,44.5],[11,43.9],[9.2,45.6],[7.3,45.6],[5.5,45],[3.7,44.5],[1.8,45],[0,46.7]];
const ipv0Dotted = [[250,52.7],[245,53.2],[240,53.2],[235,53],[230,52.1],[228,51.6],[225,49.4],[222,47.8],[219,45.6],[216,42.3],[213,41.2],[210,41.2],[207,41.7],[205,41.2],[202,39.6],[200,38.5],[197,35.7],[195,33.6],[192,31.9],[190,31.4],[185,31],[182,31.5],[180,32.2],[175,32.2],[172,31.9],[170,31.4],[167,31.2],[165,31.4],[160,31.9],[155,32.5],[150,32.7],[145.6,32.5],[140.7,33],[135.8,32.5],[130.9,31.4],[125.9,31.4],[121,32.5],[116.1,34.1],[111.2,36.8],[106.3,39],[101.4,41.4],[96.4,42.8],[91.5,43.9],[86.6,44.5],[81.7,45],[76.8,45.6],[71.9,46.1],[67,46.7],[62,47],[57.1,47.5],[52.2,47.8],[47.3,47.8],[42.4,48.3],[37.4,48.9],[32.5,49.1],[27.6,49.4],[22.7,49.4],[17.8,49.9],[12.9,49.9],[8,49.9],[3.1,49.7],[0,49.7]];

// Tick positions
const ageTicks = d3.range(0, 251, 10);
const wetTicks = d3.range(0, 101, 10);

const FONT = "'Liberation Sans', Arial, Helvetica, sans-serif";
const BLACK = "#000000";
const DOTS = "5,6.5";

const panels = [
  {
    letter: "a)", marginTop: 44, marginBottom: 15, topLabels: true, bottomLabels: false,
    series: [
      {solid: mtzInfSolid, dotted: mtzInfDotted, color: "#00c800", label: ["t", "MTZ", " = \u221e"]},
      {solid: mtz30Solid, dotted: mtz30Dotted, color: "#a52a2a", label: ["t", "MTZ", " = 30 Myr"]},
      {solid: mtz0Solid, dotted: mtz0Dotted, color: "#0000cd", label: ["t", "MTZ", " = 0 Myr"]},
      {solid: refSolid, dotted: refDotted, color: BLACK, label: ["t", "MTZ", " = 100 Myr"]}
    ],
    legendOrder: [0, 3, 1, 2],
    intro: ["Models using:", ["v", "sink", " = 3 cm/yr"], ["t", "IPV", " = 20 Myr"]],
    heading: "MTZ residence time:"
  },
  {
    letter: "b)", marginTop: 15, marginBottom: 15, topLabels: false, bottomLabels: false,
    series: [
      {solid: sink1Solid, dotted: sink1Dotted, color: "#40e0d0", label: ["v", "sink", " = 1 cm/yr"]},
      {solid: sink6Solid, dotted: sink6Dotted, color: "#ba55d3", label: ["v", "sink", " = 6 cm/yr"]},
      {solid: sink9Solid, dotted: sink9Dotted, color: "#b8860b", label: ["v", "sink", " = 9 cm/yr"]},
      {solid: refSolid, dotted: refDotted, color: BLACK, label: ["v", "sink", " = 3 cm/yr"]}
    ],
    legendOrder: [0, 3, 1, 2],
    intro: ["Models using:", ["t", "MTZ", " = 100 Myr"], ["t", "IPV", " = 20 Myr"]],
    heading: "Slab sinking velocity:"
  },
  {
    letter: "c)", marginTop: 16, marginBottom: 79, topLabels: false, bottomLabels: true,
    xTitle: "Age (Ma) of IPV (solid) or Continental MTZ Area (dotted)",
    series: [
      {solid: ipv50Solid, dotted: ipv50Dotted, color: "#ff8c00", label: ["t", "IPV", " = 50 Myr"]},
      {solid: ipv30Solid, dotted: ipv30Dotted, color: "#ff3ea5", label: ["t", "IPV", " = 30 Myr"]},
      {solid: ipv10Solid, dotted: ipv10Dotted, color: "#3cb371", label: ["t", "IPV", " = 10 Myr"]},
      {solid: ipv0Solid, dotted: ipv0Dotted, color: "#1874cd", label: ["t", "IPV", " = 0 Myr"]},
      {solid: refSolid, dotted: refDotted, color: BLACK, label: ["t", "IPV", " = 20 Myr"]}
    ],
    legendOrder: [0, 1, 4, 2, 3],
    intro: ["Models using:", ["t", "MTZ", " = 100 Myr"], ["v", "sink", " = 3 cm/yr"]],
    heading: "IPV delay period:"
  }
];

const FRAME_H = 305;
const chart = document.getElementById("chart");

function writeLabel(g, parts, x, y, color) {
  const t = g.append("text").attr("x", x).attr("y", y).attr("fill", color).attr("text-anchor", "start");
  if (typeof parts === "string") { t.text(parts); return; }
  t.append("tspan").attr("font-style", "italic").text(parts[0]);
  t.append("tspan").attr("font-size", 17).attr("dy", 6.5).text(parts[1]);
  t.append("tspan").attr("dy", -6.5).text(parts[2]);
}

for (const p of panels) {
  const height = p.marginTop + FRAME_H + p.marginBottom;
  const marks = [Plot.frame({fill: "#f9f9f9", stroke: "none"})];
  for (const s of p.series) {
    marks.push(Plot.line(s.dotted, {x: d => d[0], y: d => d[1], stroke: s.color, strokeWidth: 4, strokeDasharray: DOTS, curve: "monotone-x"}));
  }
  for (const s of p.series) {
    marks.push(Plot.line(s.solid, {x: d => d[0], y: d => d[1], stroke: s.color, strokeWidth: s.color === BLACK ? 3.3 : 3, strokeLinejoin: "round"}));
  }
  const ageFmt = d => (d % 50 === 0 ? String(d) : "");
  const none = () => "";
  marks.push(
    Plot.axisY({anchor: "left", ticks: wetTicks, tickSize: 8, tickPadding: 9, fontSize: 23, strokeWidth: 2, tickFormat: d => (d % 20 === 0 ? String(d) : ""), label: null}),
    Plot.axisY({anchor: "right", ticks: wetTicks, tickSize: 8, strokeWidth: 2, tickFormat: none, label: null}),
    Plot.axisX({anchor: "top", ticks: ageTicks, tickSize: 8, tickPadding: 9, fontSize: 23, strokeWidth: 2, tickFormat: p.topLabels ? ageFmt : none, label: null}),
    Plot.axisX({anchor: "bottom", ticks: ageTicks, tickSize: 8, tickPadding: 14, fontSize: 23, strokeWidth: 2, tickFormat: p.bottomLabels ? ageFmt : none, label: null}),
    Plot.frame({stroke: BLACK, strokeWidth: 3}),
    Plot.text([p.letter], {frameAnchor: "top-left", dx: 11, dy: 12, textAnchor: "start", lineAnchor: "top", fontSize: 26}),
    Plot.text(["Wet Fraction (%)"], {frameAnchor: "left", rotate: -90, dx: -74, textAnchor: "middle", lineAnchor: "bottom", fontSize: 27.5})
  );
  if (p.xTitle) {
    marks.push(Plot.text([p.xTitle], {frameAnchor: "bottom", dy: 72, textAnchor: "middle", lineAnchor: "bottom", fontSize: 27.5}));
  }
  const svg = Plot.plot({
    width: 1045, height,
    marginLeft: 107, marginRight: 260, marginTop: p.marginTop, marginBottom: p.marginBottom,
    x: {domain: [250, 0]},
    y: {domain: [0, 100]},
    style: {fontFamily: FONT, color: "black", background: "white", overflow: "visible"},
    marks
  });

  // Legend block to the right of the frame
  const top = p.marginTop, bottom = p.marginTop + FRAME_H;
  const g = d3.select(svg).append("g").attr("font-family", FONT).attr("font-size", 25.4).attr("text-anchor", "start");
  for (const y of [top, bottom]) {
    g.append("line").attr("x1", 785).attr("x2", 1045).attr("y1", y).attr("y2", y).attr("stroke", BLACK).attr("stroke-width", 3);
  }
  writeLabel(g, p.intro[0], 807, top + 33, BLACK);
  writeLabel(g, p.intro[1], 864, top + 64, BLACK);
  writeLabel(g, p.intro[2], 864, top + 95, BLACK);
  writeLabel(g, p.heading, 807, top + 137, BLACK);
  p.legendOrder.forEach((idx, i) => {
    const s = p.series[idx];
    const base = top + 167.5 + i * 30.2;
    g.append("line").attr("x1", 807).attr("x2", 847).attr("y1", base - 13.4).attr("y2", base - 13.4).attr("stroke", s.color).attr("stroke-width", 3);
    g.append("line").attr("x1", 807).attr("x2", 847).attr("y1", base - 1.7).attr("y2", base - 1.7).attr("stroke", s.color).attr("stroke-width", 3).attr("stroke-dasharray", DOTS);
    writeLabel(g, s.label, 864, base, s.color);
  });
  chart.appendChild(svg);
}
</script>
</body>
</html>
